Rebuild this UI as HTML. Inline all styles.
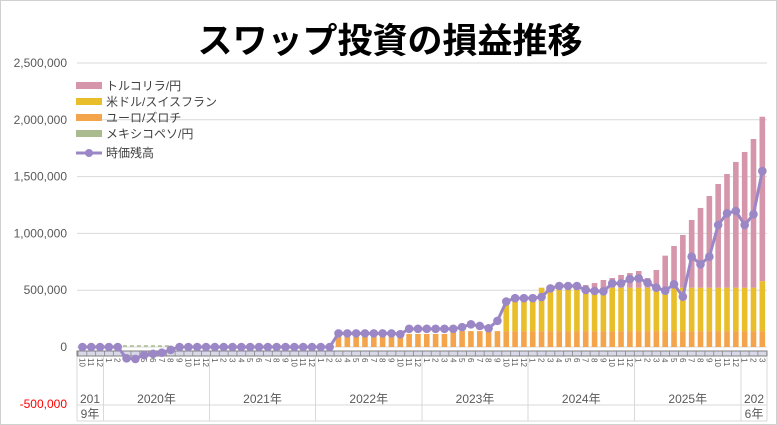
<!DOCTYPE html>
<html><head><meta charset="utf-8"><style>
html,body{margin:0;padding:0;background:#fff}
svg{display:block}
text{font-family:"Liberation Sans","Noto Sans CJK JP",sans-serif}
</style></head><body>
<svg id="s" width="777" height="425" xmlns="http://www.w3.org/2000/svg">
<rect x="0.5" y="0.5" width="776" height="424" fill="#fff" stroke="#d0d0d0"/>
<text x="390" y="53" text-anchor="middle" font-size="35" font-weight="bold" fill="#000" style="font-family:'Noto Sans CJK JP',sans-serif">スワップ投資の損益推移</text>
</svg>
<script>
var s=document.getElementById('s'),NS="http://www.w3.org/2000/svg";
function el(t,a,txt){var e=document.createElementNS(NS,t);for(var k in a)e.setAttribute(k,a[k]);if(txt!=null)e.textContent=txt;s.appendChild(e);return e;}
var X0=78,DX=8.83,Y0=347,K=56.8/500000;
function Y(v){return Y0-v*K;}
function cx(i){return X0+(i+0.5)*DX;}
// gridlines & labels
var labs=["0","500,000","1,000,000","1,500,000","2,000,000","2,500,000"];
for(var j=0;j<=5;j++){var y=Y(j*500000);el('line',{x1:77,x2:767,y1:y,y2:y,stroke:'#d9d9d9','stroke-width':1});
el('text',{x:67,y:y+4,'text-anchor':'end','font-size':12,fill:'#595959'},labs[j]);}
el('text',{x:67,y:408,'text-anchor':'end','font-size':12,fill:'#ff0000'},"-500,000");
// data
var N=78,orange=[],yellow=[],pink=[],line=[];
for(var i=0;i<N;i++){orange[i]=0;yellow[i]=0;pink[i]=0;line[i]=0;}
for(i=29;i<N;i++)orange[i]=i<36?90000:(i<42?115000:140000);
for(i=48;i<N;i++){var tot=i<52?414000:(i<77?522000:580000);yellow[i]=tot-orange[i];}
var ptot=[546,563,590,607,634,651,669,607,678,804,889,986,1118,1224,1329,1435,1523,1629,1717,1831,2027];
for(i=57;i<N;i++){var base=orange[i]+yellow[i];pink[i]=Math.max(0,ptot[i-57]*1000-base);}
var neg={5:-100000,6:-105000,7:-70000,8:-60000,9:-50000,10:-25000};
for(var k in neg)line[k]=neg[k];
var mid=[120,120,120,120,120,120,120,113,160,160,160,160,160,160,175,200,185,165,230,400,430,430,430,440,490];
for(i=29;i<=53;i++)line[i]=mid[i-29]*1000;
var late=[516,537,537,537,502,493,490,560,560,598,605,566,522,496,552,443,795,728,795,1074,1177,1197,1074,1168,1549];
for(i=53;i<N;i++)line[i]=late[i-53]*1000;
// bars
var bw=5.6;
for(i=0;i<N;i++){var x=cx(i)-bw/2,b=0;
[[orange[i],'#f4a54b'],[yellow[i],'#e8bf2a'],[pink[i],'#d595aa']].forEach(function(p){if(p[0]>0){el('rect',{x:x,y:Y(b+p[0]),width:bw,height:p[0]*K,fill:p[1]});b+=p[0];}});}
el('line',{x1:cx(3),x2:cx(10),y1:346,y2:346,stroke:'#a9bb8f','stroke-width':1.5,'stroke-dasharray':'4,3'});
// axis strip
el('rect',{x:77,y:351,width:690,height:5,fill:'#d8d8e8',stroke:'#7f7f7f','stroke-width':1});
for(i=0;i<=N;i++){var xx=X0+i*DX;el('line',{x1:xx,x2:xx,y1:351,y2:356,stroke:'#888','stroke-width':0.8});}
// month labels
for(i=0;i<N;i++){var m=((9+i)%12)+1;var t=el('text',{x:0,y:0,'font-size':8,fill:'#595959',transform:'translate('+(cx(i)-3)+',358) rotate(90)'},String(m));}
// year area
var seps=[77,103.5,209.5,315.5,422,528,634.5,741,767];
seps.forEach(function(x){el('line',{x1:x,x2:x,y1:357,y2:421,stroke:'#d9d9d9'});});
el('line',{x1:77,x2:767,y1:405,y2:405,stroke:'#d9d9d9'});
el('line',{x1:77,x2:767,y1:421,y2:421,stroke:'#d9d9d9'});
var yrs=["2020年","2021年","2022年","2023年","2024年","2025年"];
for(j=0;j<6;j++)el('text',{x:(seps[j+1]+seps[j+2])/2,y:403,'text-anchor':'middle','font-size':12,fill:'#595959'},yrs[j]);
el('text',{x:90,y:403,'text-anchor':'middle','font-size':12,fill:'#595959'},"201");
el('text',{x:90,y:418,'text-anchor':'middle','font-size':12,fill:'#595959'},"9年");
el('text',{x:754,y:403,'text-anchor':'middle','font-size':12,fill:'#595959'},"202");
el('text',{x:754,y:418,'text-anchor':'middle','font-size':12,fill:'#595959'},"6年");
// line
var pts=[];for(i=0;i<N;i++)pts.push(cx(i)+','+Y(line[i]));
el('polyline',{points:pts.join(' '),fill:'none',stroke:'#9b87c6','stroke-width':3,'stroke-linejoin':'round'});
for(i=0;i<N;i++)el('circle',{cx:cx(i),cy:Y(line[i]),r:4.3,fill:'#9b87c6'});
// legend
var lg=[['トルコリラ/円','#d595aa'],['米ドル/スイスフラン','#e8bf2a'],['ユーロ/ズロチ','#f4a54b'],['メキシコペソ/円','#a9bb8f']];
for(j=0;j<4;j++){var ly=86+j*16;el('rect',{x:76,y:ly-4,width:26,height:7,fill:lg[j][1]});el('text',{x:106,y:ly+4,'font-size':12,fill:'#404040'},lg[j][0]);}
el('line',{x1:76,x2:102,y1:153,y2:153,stroke:'#9b87c6','stroke-width':3});
el('circle',{cx:89,cy:153,r:4,fill:'#9b87c6'});
el('text',{x:106,y:157,'font-size':12,fill:'#404040'},'時価残高');
</script>
</body></html>
